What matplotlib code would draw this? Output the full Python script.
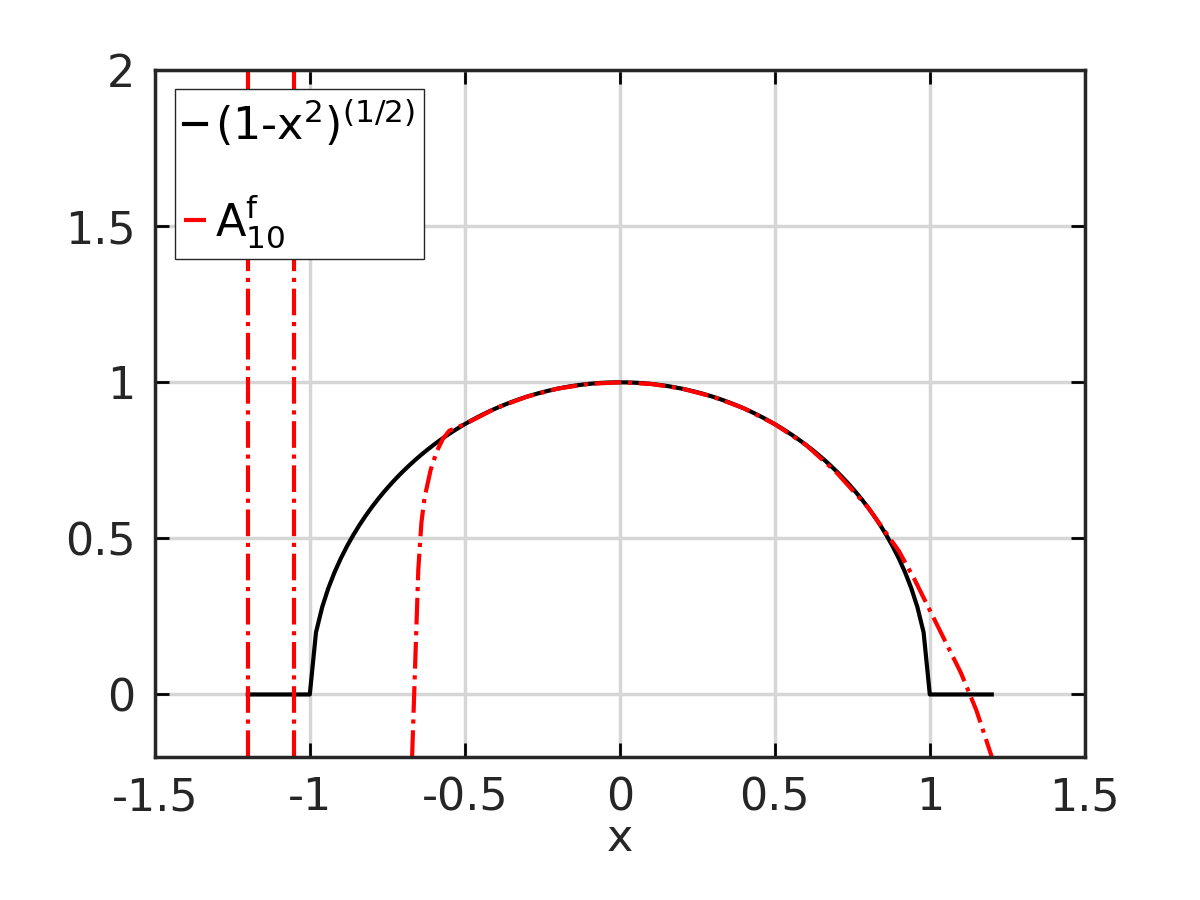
import numpy as np
import matplotlib
matplotlib.use("Agg")
import matplotlib.pyplot as plt

plt.rcParams['mathtext.fontset'] = 'dejavusans'
plt.rcParams['mathtext.default'] = 'regular'

# black curve: sampled exact function
x_exact = np.round(np.arange(-1.2, 1.2001, 0.02), 4)
y_exact = np.sqrt(np.clip(1 - x_exact**2, 0, None))

# red approximation
x_appr = [-0.67, -0.665, -0.66, -0.655, -0.65, -0.64, -0.63, -0.61, -0.59, -0.57, -0.55, -0.5, -0.4, -0.3, -0.2,
          -0.1, 0.0, 0.1, 0.2, 0.3, 0.4, 0.5, 0.6, 0.7, 0.8, 0.85, 0.9, 0.95, 1.0, 1.05, 1.1, 1.15, 1.2]
y_appr = [-0.2, -0.05, 0.1, 0.25, 0.4, 0.55, 0.63, 0.72, 0.78, 0.82, 0.845, 0.866, 0.917, 0.954, 0.98,
          0.995, 1.0, 0.995, 0.98, 0.954, 0.917, 0.866, 0.8, 0.71, 0.6, 0.53, 0.46, 0.37, 0.27, 0.17, 0.07, -0.05, -0.2]
pole_x = [-1.2, -1.05]

fig = plt.figure(figsize=(12, 9), dpi=100)
ax = fig.add_axes([0.129, 0.159, 0.775, 0.763])
ax.plot(x_exact, y_exact, color='black', lw=3, label='(1-x$^{2}$)$^{(1/2)}$')
ax.plot(x_appr, y_appr, color='red', lw=3, ls='-.', label='A$^{f}_{10}$')
for px in pole_x:
    ax.plot([px, px], [-0.2, 2.0], color='red', lw=3, ls='-.')
ax.set_xlim(-1.5, 1.5)
ax.set_ylim(-0.2, 2)
ax.set_xticks([-1.5, -1, -0.5, 0, 0.5, 1, 1.5])
ax.set_xticklabels(['-1.5', '-1', '-0.5', '0', '0.5', '1', '1.5'])
ax.set_yticks([0, 0.5, 1, 1.5, 2])
ax.set_yticklabels(['0', '0.5', '1', '1.5', '2'])
ax.grid(True, color='#d6d6d6', lw=2.5)
ax.tick_params(direction='in', length=10, width=2, labelsize=32, top=True, right=True, pad=14,
               colors='black', labelcolor='#262626')
for s in ax.spines.values():
    s.set_linewidth(2.5)
    s.set_color('#262626')
ax.set_xlabel('x', fontsize=32, color='#262626', labelpad=-2)
leg = ax.legend(loc='upper left', bbox_to_anchor=(0.022, 0.972), fontsize=32, frameon=True, fancybox=False,
                edgecolor='#262626', framealpha=1, handlelength=0.5, handletextpad=0.2, borderpad=0.2,
                labelspacing=1.0, borderaxespad=0)
leg.get_frame().set_linewidth(1)
fig.savefig('out.png', dpi=100)
